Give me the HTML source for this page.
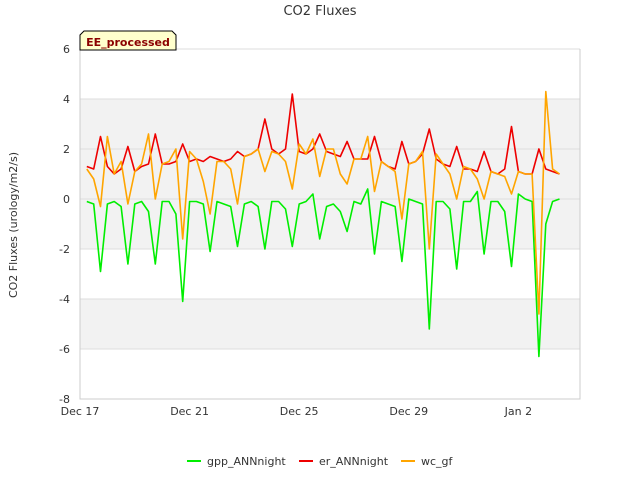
<!DOCTYPE html>
<html><head><meta charset="utf-8"><style>
body{margin:0;background:#fff;font-family:"DejaVu Sans","Liberation Sans",sans-serif}
</style></head><body>
<svg width="640" height="480" xmlns="http://www.w3.org/2000/svg" font-family="DejaVu Sans, Liberation Sans, sans-serif">
<g id="chart"></g>
</svg>
<script>
const times=[];for(let i=0;i<70;i++)times.push(0.25+i*0.25);
const gpp=[-0.1,-0.2,-2.9,-0.2, -0.1,-0.3,-2.6,-0.2, -0.1,-0.5,-2.6,-0.1, -0.1,-0.6,-4.1,-0.1, -0.1,-0.2,-2.1,-0.1, -0.2,-0.3,-1.9,-0.2, -0.1,-0.3,-2.0,-0.1, -0.1,-0.4,-1.9,-0.2, -0.1,0.2,-1.6,-0.3, -0.2,-0.5,-1.3,-0.1, -0.2,0.4,-2.2,-0.1, -0.2,-0.3,-2.5,0.0, -0.1,-0.2,-5.2,-0.1, -0.1,-0.4,-2.8,-0.1, -0.1,0.3,-2.2,-0.1, -0.1,-0.5,-2.7,0.2, 0.0,-0.1,-6.3,-1.0, -0.1,0.0];
const er=[1.3,1.2,2.5,1.3, 1.0,1.2,2.1,1.1, 1.3,1.4,2.6,1.4, 1.4,1.5,2.2,1.5, 1.6,1.5,1.7,1.6, 1.5,1.6,1.9,1.7, 1.8,2.0,3.2,2.0, 1.8,2.0,4.2,1.9, 1.8,2.0,2.6,1.9, 1.8,1.7,2.3,1.6, 1.6,1.6,2.5,1.5, 1.3,1.2,2.3,1.4, 1.5,1.8,2.8,1.6, 1.4,1.3,2.1,1.2, 1.2,1.1,1.9,1.1, 1.0,1.2,2.9,1.1, 1.0,1.0,2.0,1.2, 1.1,1.0];
const wc=[1.2,0.8,-0.3,2.5, 1.0,1.5,-0.2,1.1, 1.4,2.6,0.0,1.4, 1.5,2.0,-1.6,1.9, 1.6,0.7,-0.6,1.5, 1.5,1.2,-0.2,1.7, 1.8,2.0,1.1,1.9, 1.8,1.5,0.4,2.2, 1.8,2.4,0.9,2.0, 2.0,1.0,0.6,1.6, 1.6,2.5,0.3,1.5, 1.3,1.1,-0.8,1.4, 1.5,1.9,-2.0,1.8, 1.4,1.0,0.0,1.3, 1.2,0.8,0.0,1.1, 1.0,0.9,0.2,1.1, 1.0,1.0,-4.6,4.3, 1.2,1.0];
const yTicks=[6,4,2,0,-2,-4,-6,-8];
const xTickDays=[0,4,8,12,16];
const xTickLabels=["Dec 17","Dec 21","Dec 25","Dec 29","Jan 2"];
const NS="http://www.w3.org/2000/svg";
const g=document.getElementById('chart');
const X0=80,X1=580,Y0=49,Y1=399;
const xs=d=>X0+d*(X1-X0)/18.25;
const ys=v=>Y0+(6-v)*(Y1-Y0)/14;
function mk(t,a,p){const e=document.createElementNS(NS,t);for(const k in a)e.setAttribute(k,a[k]);(p||g).appendChild(e);return e;}
let b1=mk('rect',{x:X0,y:ys(4),width:X1-X0,height:ys(-2)-ys(4),fill:'#f2f2f2'});


let b2=mk('rect',{x:X0,y:ys(-4),width:X1-X0,height:ys(-6)-ys(-4),fill:'#f2f2f2'});


yTicks.forEach(v=>{
 const l=mk('line',{x1:X0,x2:X1,y1:ys(v),y2:ys(v),stroke:'#dddddd'});
 
 
 const t=mk('text',{x:X0-10,y:ys(v)+4,'text-anchor':'end','font-size':11,fill:'#333'});t.textContent=v;
 
 
});
let ax=mk('path',{d:`M${X0},${Y0}V${Y1}H${X1}V${Y0}`,fill:'none',stroke:'#cccccc'});


xTickDays.forEach((d,i)=>{
 const t=mk('text',{x:xs(d),y:Y1+16,'text-anchor':'middle','font-size':11,fill:'#333'});t.textContent=xTickLabels[i];
 
 
});
function series(vals,color,name){
 const d=vals.map((v,i)=>(i?'L':'M')+xs(times[i]).toFixed(1)+','+ys(v).toFixed(1)).join('');
 const p=mk('path',{d,fill:'none',stroke:color,'stroke-width':1.6,'stroke-linejoin':'round'});
 
 
}
series(gpp,'#00ee00','gpp-line');
series(er,'#ee0000','er-line');
series(wc,'#ffa500','wc-line');
</script>
<svg width="640" height="480" style="position:absolute;left:0;top:0" font-family="DejaVu Sans, Liberation Sans, sans-serif">
<text x="320" y="15" text-anchor="middle" font-size="13" fill="#333">CO2 Fluxes</text>
<text transform="translate(17,225) rotate(-90)" text-anchor="middle" font-size="11" fill="#333">CO2 Fluxes (urology/m2/s)</text>
<g>
<path d="M80,50V35L84,31H172L176,35V50Z" fill="#ffffcc" stroke="#000" stroke-width="1"/>
<text x="128" y="46" text-anchor="middle" font-size="11" font-weight="bold" fill="#8b0000">EE_processed</text>
</g>
<g>
<line x1="187" x2="201" y1="461" y2="461" stroke="#00ee00" stroke-width="2"/>
<text x="207" y="465" font-size="11" fill="#333">gpp_ANNnight</text>
<line x1="299" x2="313" y1="461" y2="461" stroke="#ee0000" stroke-width="2"/>
<text x="319" y="465" font-size="11" fill="#333">er_ANNnight</text>
<line x1="401" x2="415" y1="461" y2="461" stroke="#ffa500" stroke-width="2"/>
<text x="421" y="465" font-size="11" fill="#333">wc_gf</text>
</g>
</svg>
</body></html>
